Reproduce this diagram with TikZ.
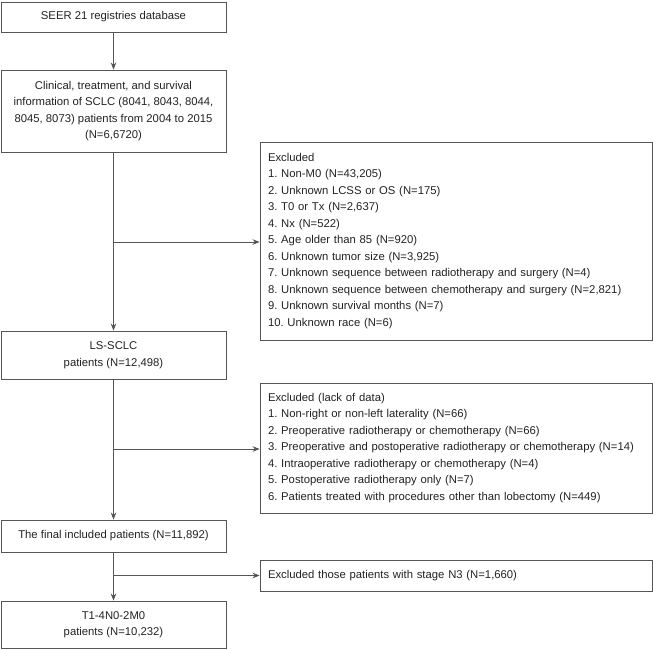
\documentclass[tikz,border=0pt]{standalone}
\usepackage{fontspec}
\setmainfont{Liberation Sans}
\usetikzlibrary{arrows.meta,calc}
\definecolor{boxline}{HTML}{555555}
\definecolor{txt}{HTML}{222222}
\frenchspacing
\begin{document}
\begin{tikzpicture}[x=1pt,y=-1pt,
  every node/.style={font=\fontsize{11.3}{16.5}\selectfont\frenchspacing, text=txt},
  leftbox/.style={draw=boxline, line width=0.9pt, minimum width=225pt, inner sep=0pt, align=center},
  rightbox/.style={draw=boxline, line width=0.9pt, text width=376pt, inner xsep=8pt, inner ysep=0pt, align=left},
  flow/.style={draw=boxline, line width=0.9pt, -{Stealth[length=7pt,width=5.5pt,fill=black]}},
  plain/.style={draw=boxline, line width=0.9pt}]
\useasboundingbox (0,0) rectangle (653,649);
% left column
\node[leftbox, minimum height=30pt] (seer) at (113.5,17) {SEER 21 registries database};
\node[leftbox, minimum height=82pt] (clin) at (113.5,111) {Clinical, treatment, and survival\\information of SCLC (8041, 8043, 8044,\\8045, 8073) patients from 2004 to 2015\\(N=6,6720)};
\node[leftbox, minimum height=48pt] (ls) at (113.5,355) {LS-SCLC\\patients (N=12,498)};
\node[leftbox, minimum height=32pt] (final) at (113.5,536) {The final included patients (N=11,892)};
\node[leftbox, minimum height=47pt] (t1) at (113.5,624.5) {T1-4N0-2M0\\patients (N=10,232)};
% right column
\node[rightbox, minimum height=198pt] (ex1) at (456,241) {Excluded\\
1. Non-M0 (N=43,205)\\
2. Unknown LCSS or OS (N=175)\\
3. T0 or Tx (N=2,637)\\
4. Nx (N=522)\\
5. Age older than 85 (N=920)\\
6. Unknown tumor size (N=3,925)\\
7. Unknown sequence between radiotherapy and surgery (N=4)\\
8. Unknown sequence between chemotherapy and surgery (N=2,821)\\
9. Unknown survival months (N=7)\\
10. Unknown race (N=6)};
\node[rightbox, minimum height=130pt] (ex2) at (456,448) {Excluded (lack of data)\\
1. Non-right or non-left laterality (N=66)\\
2. Preoperative radiotherapy or chemotherapy (N=66)\\
3. Preoperative and postoperative radiotherapy or chemotherapy (N=14)\\
4. Intraoperative radiotherapy or chemotherapy (N=4)\\
5. Postoperative radiotherapy only (N=7)\\
6. Patients treated with procedures other than lobectomy (N=449)};
\node[rightbox, minimum height=31pt] (ex3) at (456,575.5) {Excluded those patients with stage N3 (N=1,660)};
% connectors
\draw[flow] (seer) -- (clin);
\draw[flow] (clin) -- (ls);
\draw[flow] (ls) -- (final);
\draw[flow] (final) -- (t1);
\coordinate (b1) at (113.5,242);
\coordinate (b2) at (113.5,449);
\coordinate (b3) at (113.5,575.5);
\draw[flow] (b1) -- (b1 -| ex1.west);
\draw[flow] (b2) -- (b2 -| ex2.west);
\draw[flow] (b3) -- (b3 -| ex3.west);
\end{tikzpicture}
\end{document}
